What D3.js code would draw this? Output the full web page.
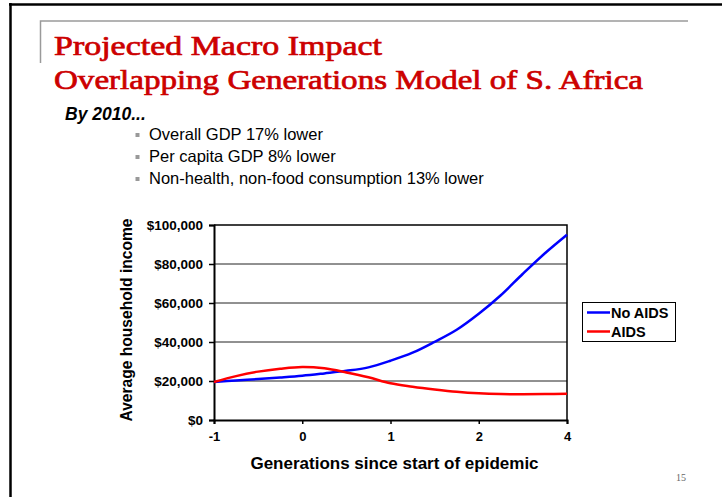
<!DOCTYPE html>
<html>
<head>
<meta charset="utf-8">
<script src="https://cdn.jsdelivr.net/npm/d3@7"></script>
<style>
    body { margin: 0; background: #fff; }
    svg { display: block; }
</style>
</head>
<body>
<div id="slide"></div>
<script>
// Projected macro impact - household income chart

// Category labels on the x axis (equally spaced, as on the slide)
const xTickLabels = ['-1', '0', '1', '2', '4'];

// Sample positions along the axis, in category steps (0 = "-1", 4 = "4")
const positions = [0, 0.25, 0.5, 0.75, 1, 1.25, 1.5, 1.75, 2, 2.25, 2.5, 2.75, 3, 3.25, 3.5, 3.75, 4];

// Average household income
const noAids = [19500, 20300, 21000, 21800, 22700, 23900, 25200, 27000, 30400, 34500, 40100, 46300, 54500, 64000, 75000, 85500, 95000];
const aids   = [19500, 22500, 24800, 26300, 27200, 26500, 24400, 21900, 18800, 17100, 15700, 14500, 13700, 13300, 13200, 13300, 13400];

const yTicks = [0, 20000, 40000, 60000, 80000, 100000];

const seriesNames = ['No AIDS', 'AIDS'];
const seriesColors = ['#0000ff', '#ff0000'];

const bullets = [
    'Overall GDP 17% lower',
    'Per capita GDP 8% lower',
    'Non-health, non-food consumption 13% lower'
];

const sans = '"Liberation Sans", Arial, sans-serif';
const serif = '"Liberation Serif", "Times New Roman", serif';

const svg = d3.select('#slide').append('svg')
    .attr('width', 722)
    .attr('height', 497);

svg.append('rect').attr('width', 722).attr('height', 497).attr('fill', '#fff');

// slide frame (top and left edges)
svg.append('line').attr('x1', 9).attr('x2', 722).attr('y1', 4.5).attr('y2', 4.5)
    .attr('stroke', '#000').attr('stroke-width', 2.5);
svg.append('line').attr('x1', 10.5).attr('x2', 10.5).attr('y1', 3).attr('y2', 497)
    .attr('stroke', '#000').attr('stroke-width', 2.5);

// grey title rule
svg.append('path').attr('d', 'M40.5,63V21H688')
    .attr('fill', 'none').attr('stroke', '#9a9a9a').attr('stroke-width', 1.5);

// Title (lighter serif, thickened a little with a stroke)
const titleLines = [
    { text: 'Projected Macro Impact', y: 55, len: 328 },
    { text: 'Overlapping Generations Model of S. Africa', y: 89, len: 589 }
];
svg.append('g').selectAll('text')
    .data(titleLines)
    .enter().append('text')
    .attr('x', 54).attr('y', d => d.y)
    .attr('font-family', serif).attr('font-size', 27)
    .attr('fill', '#cc0000').attr('stroke', '#cc0000').attr('stroke-width', 0.7)
    .attr('textLength', d => d.len).attr('lengthAdjust', 'spacingAndGlyphs')
    .text(d => d.text);

svg.append('text').attr('x', 65).attr('y', 120)
    .attr('font-family', sans).attr('font-weight', 'bold').attr('font-style', 'italic')
    .attr('font-size', 17.5)
    .text('By 2010...');

const bl = svg.append('g').selectAll('g')
    .data(bullets)
    .enter().append('g')
    .attr('transform', (d, i) => `translate(0, ${140 + i * 22})`);

bl.append('rect').attr('x', 135.5).attr('y', -7).attr('width', 4).attr('height', 4)
    .attr('fill', '#999');
bl.append('text').attr('x', 149).attr('y', 0)
    .attr('font-family', sans).attr('font-size', 16.5)
    .text(d => d);

// Chart
const plot = { left: 214, right: 567, top: 225, bottom: 420 };

const x = d3.scaleLinear().domain([0, 4]).range([plot.left, plot.right]);
const y = d3.scaleLinear().domain([0, 100000]).range([plot.bottom, plot.top]);

const chart = svg.append('g');

// gridlines
chart.append('g').selectAll('line')
    .data(yTicks.slice(1, -1))
    .enter().append('line')
    .attr('x1', plot.left).attr('x2', plot.right)
    .attr('y1', d => y(d)).attr('y2', d => y(d))
    .attr('stroke', '#222').attr('stroke-width', 1);

// plot border (top and right)
chart.append('path')
    .attr('d', `M${plot.left},${plot.top}H${plot.right}V${plot.bottom}`)
    .attr('fill', 'none').attr('stroke', '#000').attr('stroke-width', 1.5);

// y axis
const yAxis = d3.axisLeft(y)
    .tickValues(yTicks)
    .tickSize(5)
    .tickPadding(6)
    .tickFormat(d => '$' + d3.format(',')(d));

chart.append('g')
    .attr('transform', `translate(${plot.left},0)`)
    .call(yAxis)
    .call(g => g.select('.domain').attr('stroke-width', 2))
    .call(g => g.selectAll('.tick line').attr('stroke-width', 1.5))
    .call(g => g.selectAll('text')
        .attr('font-family', sans).attr('font-weight', 'bold').attr('font-size', 13.5)
        .attr('fill', '#000'));

// x axis
const xAxis = d3.axisBottom(x)
    .tickValues([0, 1, 2, 3, 4])
    .tickSize(4)
    .tickPadding(8)
    .tickFormat((d, i) => xTickLabels[i]);

chart.append('g')
    .attr('transform', `translate(0,${plot.bottom})`)
    .call(xAxis)
    .call(g => g.select('.domain').attr('stroke-width', 2))
    .call(g => g.selectAll('.tick line').attr('stroke-width', 1.5))
    .call(g => g.selectAll('text')
        .attr('font-family', sans).attr('font-weight', 'bold').attr('font-size', 13)
        .attr('fill', '#000'));

// lines
const line = d3.line()
    .x((d, i) => x(positions[i]))
    .y(d => y(d))
    .curve(d3.curveCatmullRom.alpha(0.5));

[noAids, aids].forEach((vals, k) => {
    chart.append('path')
        .datum(vals)
        .attr('d', line)
        .attr('fill', 'none')
        .attr('stroke', seriesColors[k])
        .attr('stroke-width', 2.5);
});

// axis titles
svg.append('text')
    .attr('x', (plot.left + plot.right) / 2 + 4).attr('y', 469)
    .attr('text-anchor', 'middle')
    .attr('font-family', sans).attr('font-weight', 'bold').attr('font-size', 17)
    .text('Generations since start of epidemic');

svg.append('text')
    .attr('transform', 'translate(132, 320) rotate(-90)')
    .attr('text-anchor', 'middle')
    .attr('font-family', sans).attr('font-weight', 'bold').attr('font-size', 15.6)
    .text('Average household income');

// legend
const legend = svg.append('g').attr('transform', 'translate(582, 302)');
legend.append('rect').attr('x', 0.5).attr('y', 0.5).attr('width', 93).attr('height', 39)
    .attr('fill', '#fff').attr('stroke', '#000').attr('stroke-width', 1);

const items = legend.selectAll('.legend-item')
    .data(seriesNames)
    .enter().append('g')
    .attr('class', 'legend-item')
    .attr('transform', (d, i) => `translate(0, ${10.5 + i * 19})`);

items.append('line').attr('x1', 5).attr('x2', 28).attr('y1', 0).attr('y2', 0)
    .attr('stroke', (d, i) => seriesColors[i]).attr('stroke-width', 2.5);
items.append('text').attr('x', 29).attr('y', 5)
    .attr('font-family', sans).attr('font-weight', 'bold').attr('font-size', 14.5)
    .text(d => d);

// page number
svg.append('text').attr('x', 681).attr('y', 481)
    .attr('text-anchor', 'middle')
    .attr('font-family', serif).attr('font-size', 10).attr('fill', '#666')
    .text('15');
</script>
</body>
</html>
